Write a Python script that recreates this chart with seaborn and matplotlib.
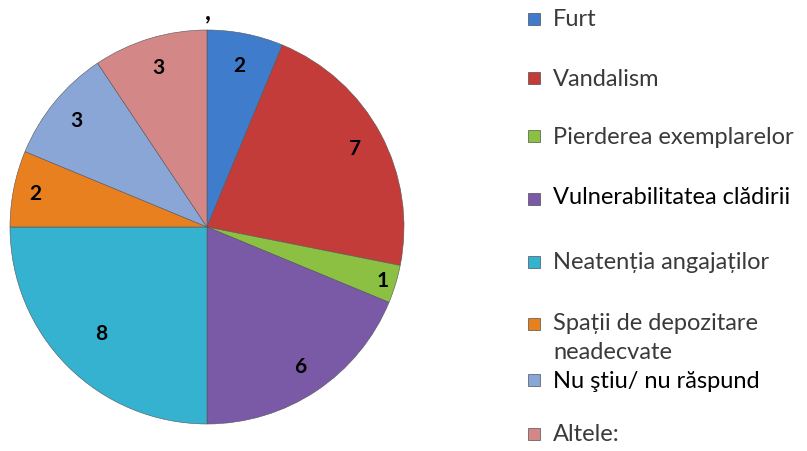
import matplotlib
matplotlib.use("Agg")
import matplotlib.pyplot as plt
import numpy as np
import seaborn as sns

labels = ["Furt", "Vandalism", "Pierderea exemplarelor", "Vulnerabilitatea clădirii",
          "Neatenția angajaților", "Spații de depozitare\nneadecvate",
          "Nu ştiu/ nu răspund", "Altele:"]
values = [2, 7, 1, 6, 8, 2, 3, 3]
colors = ["#3f7dcc", "#c43c3a", "#8cc043", "#7a5aa6", "#35b2d0", "#e8801f", "#8aa6d6", "#d48787"]

sns.set_theme(style="white")
plt.rcParams['font.family'] = ['Lato', 'DejaVu Sans']

W, H = 807, 452
fig = plt.figure(figsize=(W / 100, H / 100), dpi=100)
cx, cy, r = 207, 228, 197
ax = fig.add_axes([(cx - r) / W, (H - cy - r) / H, 2 * r / W, 2 * r / H])

wedges, _ = ax.pie(values, colors=colors, startangle=90, counterclock=False,
                   radius=1, wedgeprops=dict(edgecolor="#555555", linewidth=0.4))
ax.set_xlim(-1, 1)
ax.set_ylim(-1, 1)
ax.set_aspect("equal")
ax.axis("off")

# value labels inside slices
dist = [0.84, 0.85, 0.93, 0.85, 0.76, 0.89, 0.86, 0.85]
for w, v, d in zip(wedges, values, dist):
    ang = np.deg2rad((w.theta1 + w.theta2) / 2)
    ax.text(d * np.cos(ang), d * np.sin(ang), str(v), ha="center", va="center",
            fontsize=15, fontweight="bold", color="black")

# stray comma from cut-off title
fig.text(208 / W, 1 - 12 / H, ",", ha="center", va="center", fontsize=18,
         fontweight="bold", color="black")

# legend, drawn manually
ys = [20, 79, 137, 198, 263, 338, 381, 435]
mk = [20, 79, 137, 200, 263, 325, 381, 435]
bold = [False, False, False, True, False, False, True, False]
for lab, c, y, m, b in zip(labels, colors, ys, mk, bold):
    fig.patches.append(plt.Rectangle((528 / W, 1 - (m + 6) / H), 12 / W, 12 / H,
                                     transform=fig.transFigure, facecolor=c,
                                     edgecolor="#333333", linewidth=0.4))
    fig.text(553 / W, 1 - y / H, lab, ha="left", va="center",
             fontsize=17, color="black" if b else "#3a3a3a",
             linespacing=1.45)

fig.savefig("out.png", dpi=100)
